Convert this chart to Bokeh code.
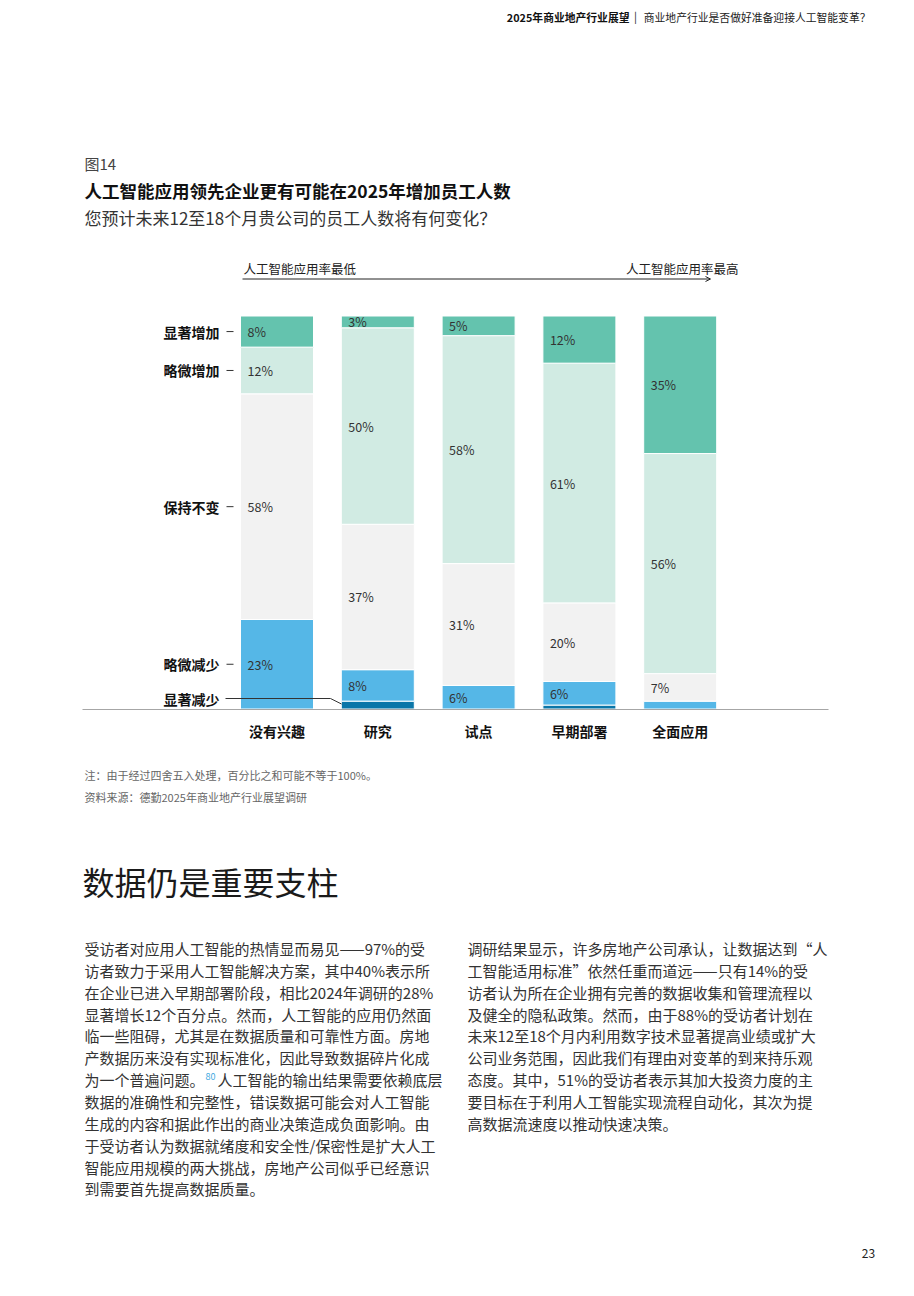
from bokeh.plotting import figure
from bokeh.models import Range1d, ColumnDataSource, Arrow, OpenHead
from bokeh.core.properties import value
from bokeh.embed import file_html
from bokeh.resources import INLINE

# ---------------- data ----------------
categories = ["没有兴趣", "研究", "试点", "早期部署", "全面应用"]
series_names = ["显著增加", "略微增加", "保持不变", "略微减少", "显著减少"]
sig_increase = [8, 3, 5, 12, 35]
slight_increase = [12, 50, 58, 61, 56]
no_change = [58, 37, 31, 20, 7]
slight_decrease = [23, 8, 6, 6, 2]
sig_decrease = [0, 2, 0, 1, 0]
series_colors = ["#64C3AE", "#D1EBE3", "#F2F2F2", "#55B7E7", "#0B76A8"]

header_bold = "2025年商业地产行业展望"
header_normal = "商业地产行业是否做好准备迎接人工智能变革？"
fig_label = "图14"
title = "人工智能应用领先企业更有可能在2025年增加员工人数"
subtitle = "您预计未来12至18个月贵公司的员工人数将有何变化？"
arrow_left = "人工智能应用率最低"
arrow_right = "人工智能应用率最高"
notes = ["注：由于经过四舍五入处理，百分比之和可能不等于100%。",
         "资料来源：德勤2025年商业地产行业展望调研"]
heading = "数据仍是重要支柱"
left_col = [
    "受访者对应用人工智能的热情显而易见——97%的受",
    "访者致力于采用人工智能解决方案，其中40%表示所",
    "在企业已进入早期部署阶段，相比2024年调研的28%",
    "显著增长12个百分点。然而，人工智能的应用仍然面",
    "临一些阻碍，尤其是在数据质量和可靠性方面。房地",
    "产数据历来没有实现标准化，因此导致数据碎片化成",
    "为一个普遍问题。",
    "数据的准确性和完整性，错误数据可能会对人工智能",
    "生成的内容和据此作出的商业决策造成负面影响。由",
    "于受访者认为数据就绪度和安全性/保密性是扩大人工",
    "智能应用规模的两大挑战，房地产公司似乎已经意识",
    "到需要首先提高数据质量。",
]
left_col_line7_rest = "人工智能的输出结果需要依赖底层"
footnote_ref = "80"
right_col = [
    "调研结果显示，许多房地产公司承认，让数据达到“人",
    "工智能适用标准”依然任重而道远——只有14%的受",
    "访者认为所在企业拥有完善的数据收集和管理流程以",
    "及健全的隐私政策。然而，由于88%的受访者计划在",
    "未来12至18个月内利用数字技术显著提高业绩或扩大",
    "公司业务范围，因此我们有理由对变革的到来持乐观",
    "态度。其中，51%的受访者表示其加大投资力度的主",
    "要目标在于利用人工智能实现流程自动化，其次为提",
    "高数据流速度以推动快速决策。",
]
page_number = "23"

# ---------------- layout constants (page pixels) ----------------
W, H = 898, 1280
M = 0               # image position of the plot frame origin
BASE_Y = 708.5      # 0 %
TOP_Y = 315.5       # 100 %
PX_PER_PCT = (BASE_Y - TOP_Y) / 100.0
X0 = 276.5          # centre of first bar
STEP = 100.8
BAR_W = 73 / STEP

FONT = value("Noto Sans CJK SC")

p = figure(width=W, height=H, output_backend="svg", toolbar_location=None,
           x_axis_type=None, y_axis_type=None,
           x_range=Range1d(M, M + W), y_range=Range1d(M + H, M),
           min_border=0, outline_line_color=None)
p.background_fill_color = "white"
p.border_fill_color = "white"

p.extra_y_ranges = {"pct": Range1d((BASE_Y - (M + H)) / PX_PER_PCT,
                                   (BASE_Y - M) / PX_PER_PCT)}
p.extra_x_ranges = {"cat": Range1d((M - X0) / STEP, (M + W - X0) / STEP)}

def txt(x, y, t, size, color="#333333", style="normal", align="left", **kw):
    p.text(x=[x], y=[y], text=[t], text_font=FONT, text_font_size=size,
           text_color=color, text_font_style=style, text_align=align,
           text_baseline="middle", **kw)

# ---------------- header ----------------
txt(870, 16, header_normal, "10.8px", "#222222", align="right")
txt(635, 15.5, "|", "11px", "#222222", align="center")
txt(629, 16, header_bold, "10.8px", "#111111", style="bold", align="right")

txt(84, 163, fig_label, "15px", "#444444")
txt(84, 190, title, "17.5px", "#111111", style="bold")
txt(84, 217, subtitle, "17px", "#333333")

# ---------------- chart ----------------
stack = [sig_decrease, slight_decrease, no_change, slight_increase, sig_increase]
stack_colors = series_colors[::-1]
totals = [sum(col) for col in zip(*stack)]

bx, bb, bt, bc = [], [], [], []
lx, ly, lt = [], [], []
mids = {}
for i in range(len(categories)):
    acc = 0.0
    for s, series in enumerate(stack):
        v = series[i] * 100.0 / totals[i]
        if series[i] > 0:
            bx.append(i); bb.append(acc); bt.append(acc + v); bc.append(stack_colors[s])
            if series[i] >= 3:
                lx.append(i - BAR_W / 2); ly.append(acc + v / 2); lt.append(f"{series[i]}%")
        mids[(i, s)] = acc + v / 2
        acc += v

bars = ColumnDataSource(dict(x=bx, bottom=bb, top=bt, color=bc))
p.vbar(x="x", bottom="bottom", top="top", width=BAR_W, fill_color="color",
       line_color="white", line_width=1, source=bars,
       x_range_name="cat", y_range_name="pct")

labels = ColumnDataSource(dict(x=lx, y=ly, text=lt))
p.text(x="x", y="y", text="text", source=labels, x_offset=7,
       text_font=FONT, text_font_size="12.5px", text_color="#333333",
       text_baseline="middle", text_align="left",
       x_range_name="cat", y_range_name="pct")

# baseline
p.segment(x0=[82], y0=[709], x1=[828], y1=[709], line_color="#A6A6A6", line_width=1.2)

# category labels
p.text(x=list(range(len(categories))), y=[730] * len(categories), text=categories,
       text_font=FONT, text_font_size="14px", text_font_style="bold",
       text_color="#111111", text_align="center", text_baseline="middle",
       x_range_name="cat")

# row labels (aligned to first bar segments)
row_series = [4, 3, 2, 1]  # stack indices: sig_inc, slight_inc, no_change, slight_dec
row_y = [mids[(0, s)] for s in row_series]
row_t = [series_names[4 - s] for s in row_series]
p.text(x=[219] * 4, y=row_y, text=row_t, text_font=FONT, text_font_size="14px",
       text_font_style="bold", text_color="#111111", text_align="right",
       text_baseline="middle", y_range_name="pct")
p.segment(x0=[226] * 4, y0=row_y, x1=[233] * 4, y1=row_y, line_color="#333333",
          line_width=1, y_range_name="pct")
txt(219, 698, series_names[4], "14px", "#111111", style="bold", align="right")
p.line(x=[225, 330, 341], y=[698, 698, 703.5], line_color="#333333", line_width=1)

# adoption arrow
txt(243, 268, arrow_left, "12.5px", "#222222")
txt(738, 268, arrow_right, "12.5px", "#222222", align="right")
p.add_layout(Arrow(end=OpenHead(size=5, line_width=1, line_color="#222222"),
                   x_start=242, y_start=278.5, x_end=710, y_end=278.5,
                   line_color="#222222", line_width=1))

# notes
txt(84, 774, notes[0], "11px", "#666666")
txt(84, 796, notes[1], "11px", "#666666")

# ---------------- body ----------------
txt(82, 880, heading, "32px", "#1A1A1A")

LINE_H = 21.85
Y_BODY = 948
p.text(x=[84] * len(left_col), y=[Y_BODY + k * LINE_H for k in range(len(left_col))],
       text=left_col, text_font=FONT, text_font_size="15px", text_color="#333333",
       text_baseline="middle")
txt(205, Y_BODY + 6 * LINE_H - 3.5, footnote_ref, "9px", "#3FA9E0")
txt(217, Y_BODY + 6 * LINE_H, left_col_line7_rest, "15px", "#333333")
p.text(x=[467] * len(right_col), y=[Y_BODY + k * LINE_H for k in range(len(right_col))],
       text=right_col, text_font=FONT, text_font_size="15px", text_color="#333333",
       text_baseline="middle")

txt(868, 1253, page_number, "12px", "#222222", align="center")

open("out.html", "w").write(file_html(p, INLINE, title="图14"))
